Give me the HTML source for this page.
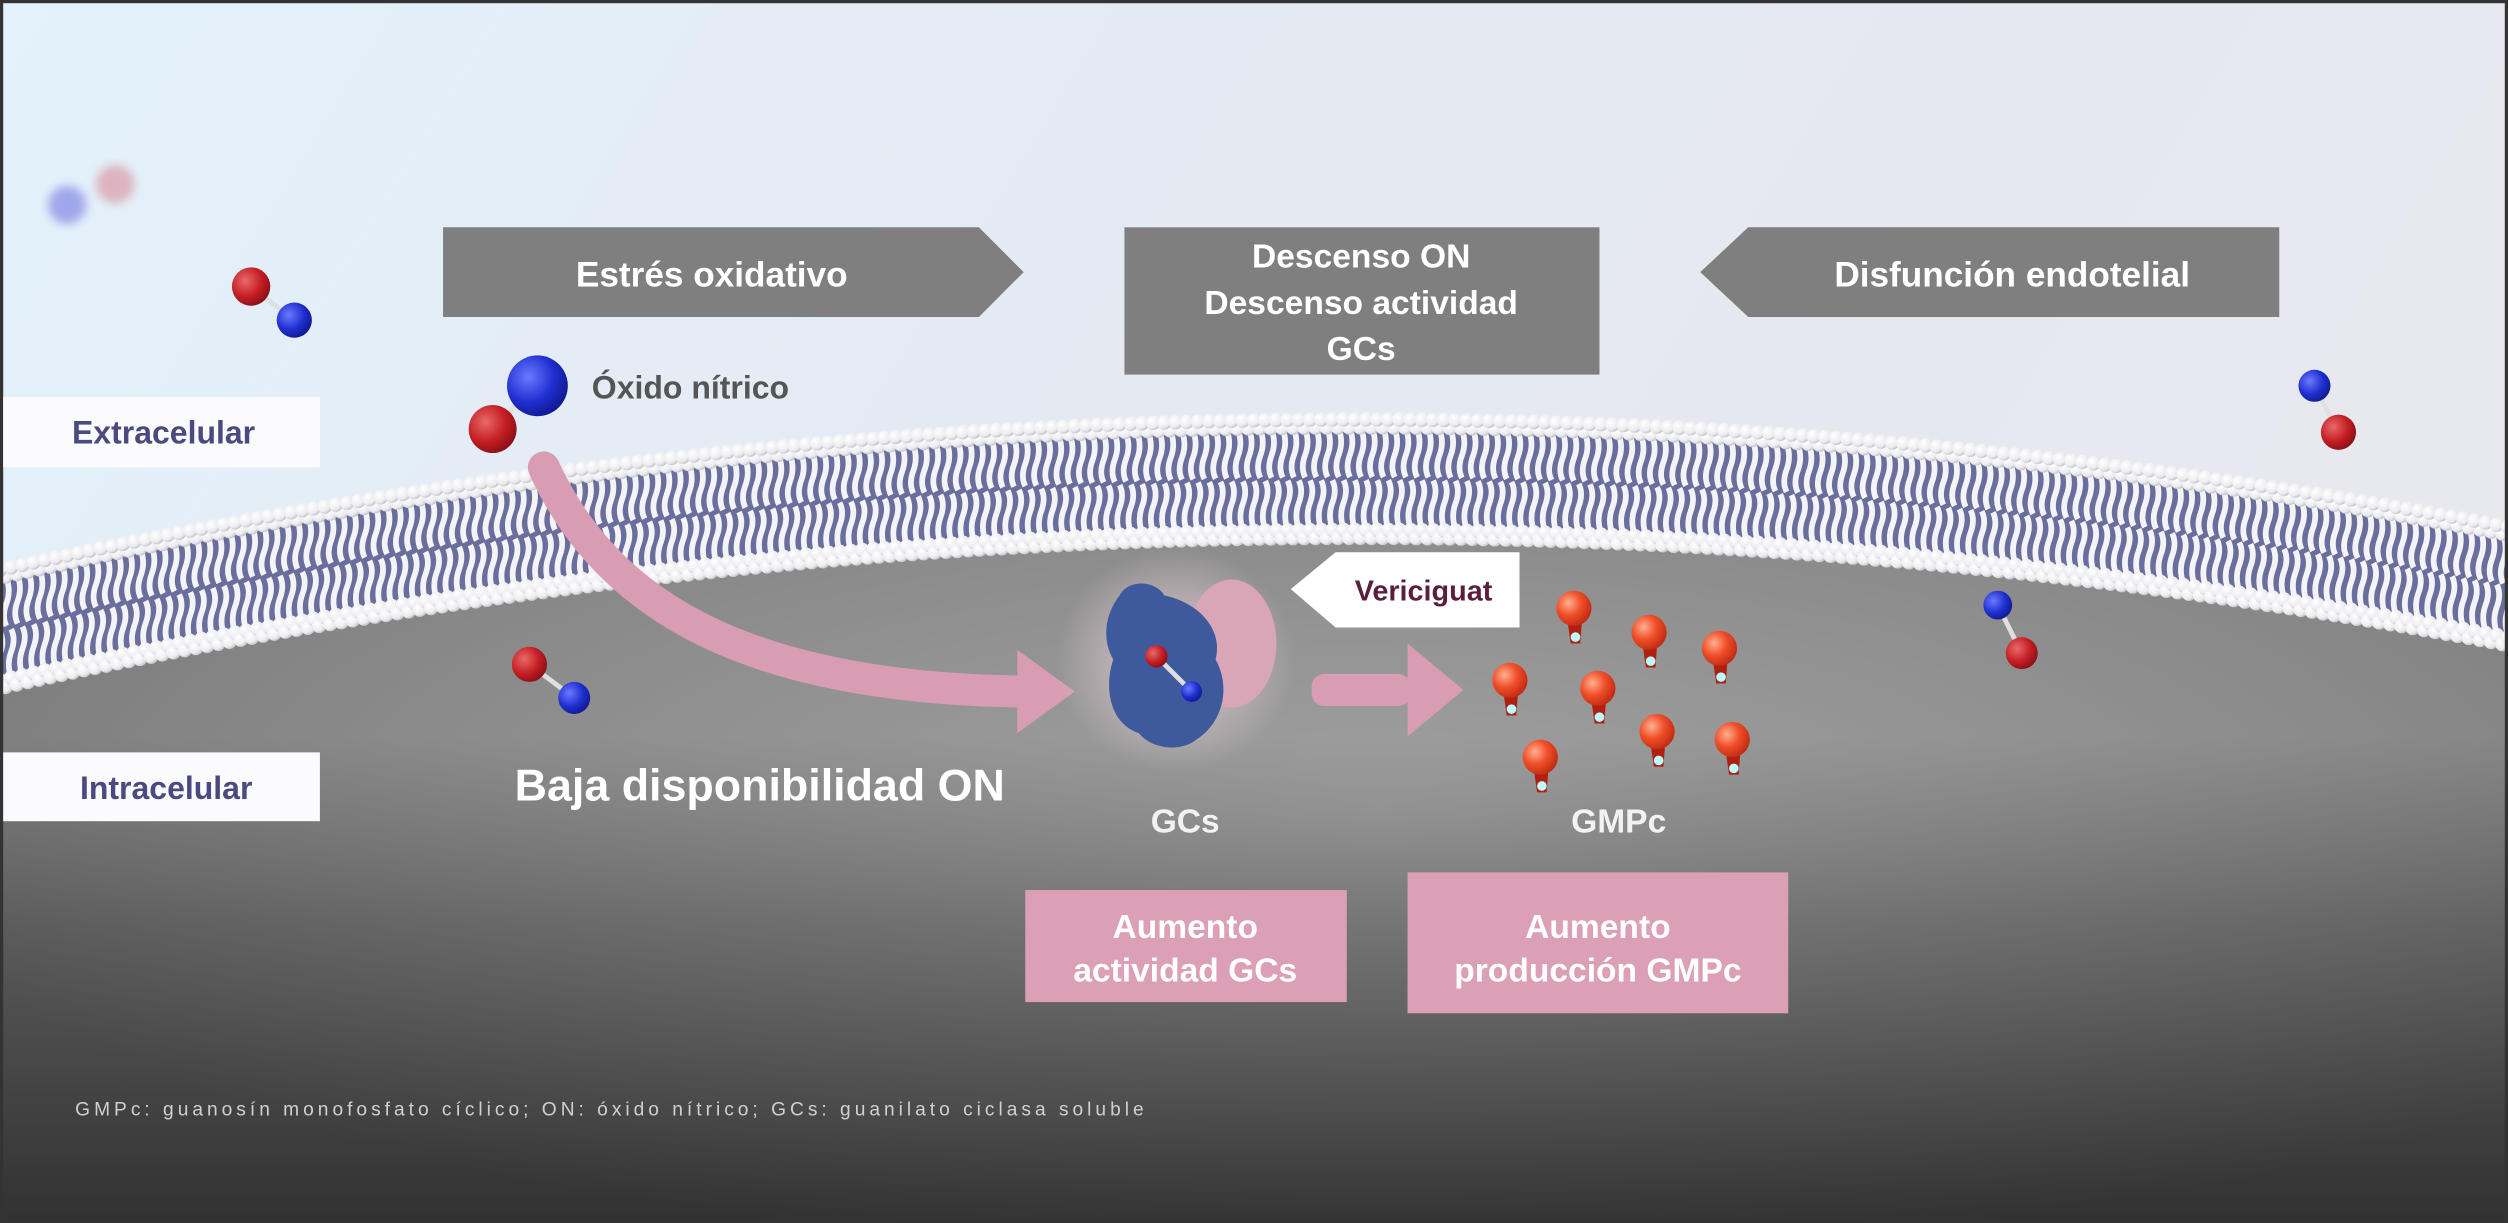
<!DOCTYPE html>
<html><head><meta charset="utf-8"><style>
html,body{margin:0;padding:0;background:#fff}
svg{display:block}
text{font-family:"Liberation Sans",sans-serif;font-weight:bold}
</style></head><body>
<svg id="s" width="2508" height="1223" viewBox="0 0 1568 764" preserveAspectRatio="none" xmlns="http://www.w3.org/2000/svg">
<defs>
<linearGradient id="sky" x1="0" y1="0" x2="1" y2="0.3">
<stop offset="0" stop-color="#e3f2fb"/><stop offset="0.5" stop-color="#e4e9f2"/><stop offset="1" stop-color="#e8e8ef"/></linearGradient>
<linearGradient id="cell" x1="0" y1="0" x2="0" y2="1">
<stop offset="0.35" stop-color="#939393"/><stop offset="0.6" stop-color="#6a6a6a"/><stop offset="1" stop-color="#3a3a3a"/></linearGradient>
<radialGradient id="cellL" cx="0.55" cy="0.45" r="0.6">
<stop offset="0" stop-color="#fff" stop-opacity="0.12"/><stop offset="1" stop-color="#000" stop-opacity="0.15"/></radialGradient>
<radialGradient id="head" cx="0.35" cy="0.35" r="0.7">
<stop offset="0" stop-color="#ffffff"/><stop offset="0.7" stop-color="#ececf0"/><stop offset="1" stop-color="#c0c0c8"/></radialGradient>
<radialGradient id="red" cx="0.35" cy="0.35" r="0.7">
<stop offset="0" stop-color="#e86a6a"/><stop offset="0.6" stop-color="#c41e24"/><stop offset="1" stop-color="#8a1015"/></radialGradient>
<radialGradient id="blue" cx="0.35" cy="0.35" r="0.7">
<stop offset="0" stop-color="#6a7aff"/><stop offset="0.6" stop-color="#1f2fd0"/><stop offset="1" stop-color="#101a90"/></radialGradient>
<radialGradient id="orng" cx="0.35" cy="0.35" r="0.7">
<stop offset="0" stop-color="#ffb090"/><stop offset="0.5" stop-color="#f0502a"/><stop offset="1" stop-color="#c02a10"/></radialGradient>
<radialGradient id="glow" cx="0.5" cy="0.5" r="0.5">
<stop offset="0" stop-color="#f4d8e2" stop-opacity="0.8"/><stop offset="1" stop-color="#f4d8e2" stop-opacity="0"/></radialGradient>
<filter id="bl"><feGaussianBlur stdDeviation="3"/></filter>
</defs>
<rect width="1568" height="764" fill="url(#sky)"/>
<g id="cellg"></g>
<g id="mem"></g>
<rect x="1" y="1" width="1566" height="762" fill="none" stroke="#333" stroke-width="2"/>
<polygon points="277,142 612,142 640,170 612,198 277,198" fill="#7f7f7f"/>
<text x="445" y="179" font-size="22" fill="#fff" text-anchor="middle">Estrés oxidativo</text>
<rect x="703" y="142" width="297" height="92" fill="#7f7f7f"/>
<text x="851" y="167" font-size="21" fill="#fff" text-anchor="middle">Descenso ON</text>
<text x="851" y="196" font-size="21" fill="#fff" text-anchor="middle">Descenso actividad</text>
<text x="851" y="225" font-size="21" fill="#fff" text-anchor="middle">GCs</text>
<polygon points="1063,170 1093,142 1425,142 1425,198 1093,198" fill="#7f7f7f"/>
<text x="1258" y="179" font-size="22" fill="#fff" text-anchor="middle">Disfunción endotelial</text>
<rect x="2" y="248" width="198" height="44" fill="#fbfbfd"/>
<text x="45" y="277" font-size="20" fill="#4a4a80">Extracelular</text>
<rect x="2" y="470" width="198" height="43" fill="#fbfbfd"/>
<text x="50" y="499" font-size="20" fill="#4a4a80">Intracelular</text>
<text x="370" y="249" font-size="20" fill="#555">Óxido nítrico</text>
<g filter="url(#bl)" opacity="0.55"><circle cx="42" cy="128" r="12" fill="#6a6ae0"/><circle cx="72" cy="115" r="12" fill="#d88090"/></g>
<g id="mols"></g>
<path d="M340,292 C380,380 470,430 640,432" fill="none" stroke="#d89db2" stroke-width="20" stroke-linecap="round"/>
<polygon points="636,406 672,432 636,458" fill="#d89db2"/>
<ellipse cx="735" cy="412" rx="75" ry="70" fill="url(#glow)"/>
<ellipse cx="770" cy="402" rx="28" ry="40" fill="#d9a6b7"/>
<path d="M700,372 C705,362 722,362 728,372 C748,376 765,392 760,412 C770,430 764,452 748,462 C738,470 720,468 712,458 C694,452 690,430 696,412 C688,398 692,382 700,372Z" fill="#3f5a9c"/>
<line x1="723" y1="410" x2="745" y2="432" stroke="#ddd" stroke-width="3"/>
<circle cx="723" cy="410" r="7" fill="url(#red)"/><circle cx="745" cy="432" r="6.5" fill="url(#blue)"/>
<text x="741" y="520" font-size="21" fill="#f2f2f2" text-anchor="middle">GCs</text>
<polygon points="807,368 835,345 950,345 950,392 835,392" fill="#fff"/>
<text x="890" y="375" font-size="18" fill="#5a1f3a" text-anchor="middle">Vericiguat</text>
<rect x="820" y="421" width="62" height="20" rx="8" fill="#d89db2"/>
<polygon points="880,402 915,431 880,460" fill="#d89db2"/>
<g id="gmp"></g>
<text x="1012" y="520" font-size="21" fill="#f2f2f2" text-anchor="middle">GMPc</text>
<text x="475" y="500" font-size="28" fill="#fff" text-anchor="middle">Baja disponibilidad ON</text>
<rect x="641" y="556" width="201" height="70" fill="#dba0b5"/>
<text x="741" y="586" font-size="21" fill="#fff" text-anchor="middle">Aumento</text>
<text x="741" y="613" font-size="21" fill="#fff" text-anchor="middle">actividad GCs</text>
<rect x="880" y="545" width="238" height="88" fill="#dba0b5"/>
<text x="999" y="586" font-size="21" fill="#fff" text-anchor="middle">Aumento</text>
<text x="999" y="613" font-size="21" fill="#fff" text-anchor="middle">producción GMPc</text>
<text x="47" y="697" font-size="12" fill="#d0d0d0" textLength="668" style="font-weight:normal">GMPc: guanosín monofosfato cíclico; ON: óxido nítrico; GCs: guanilato ciclasa soluble</text>
</svg>
<script>
(function(){
var NS="http://www.w3.org/2000/svg";
function el(t,a,p){var e=document.createElementNS(NS,t);for(var k in a)e.setAttribute(k,a[k]);p.appendChild(e);return e;}
function yt(x){return 258+1.3e-4*(x-850)*(x-850);}
var T=82;
var cg=document.getElementById('cellg');
var d="M0,"+(yt(0)+40);
for(var x=0;x<=1568;x+=8)d+=" L"+x+","+(yt(x)+40);
d+=" L1568,764 L0,764Z";
el('path',{d:d,fill:'url(#cell)'},cg);
el('path',{d:d,fill:'url(#cellL)'},cg);
var m=document.getElementById('mem');
var b="M0,"+(yt(0)+8);
for(x=0;x<=1568;x+=8)b+=" L"+x+","+(yt(x)+8);
for(x=1568;x>=0;x-=8)b+=" L"+x+","+(yt(x)+T-8);
b+="Z";
el('path',{d:b,fill:'#6a6e9c'},m);
var s=7;
for(x=-3;x<1572;x+=s){
 var y=yt(x);
 var p="M"+x+","+(y+10)+" q3,8 0,16 q-3,8 0,14";
 el('path',{d:p,fill:'none',stroke:'#f4f4f8','stroke-width':3.6},m);
 var p2="M"+(x+3)+","+(y+T-10)+" q-3,-8 0,-16 q3,-8 0,-14";
 el('path',{d:p2,fill:'none',stroke:'#f4f4f8','stroke-width':3.6},m);
}
for(x=0;x<1572;x+=s){
 el('circle',{cx:x+3.5,cy:yt(x+3.5)+9,r:4.5,fill:'url(#head)'},m);
 el('circle',{cx:x,cy:yt(x)+4,r:4.5,fill:'url(#head)'},m);
 el('circle',{cx:x,cy:yt(x)+T-9,r:4.5,fill:'url(#head)'},m);
 el('circle',{cx:x+3.5,cy:yt(x+3.5)+T-4,r:4.5,fill:'url(#head)'},m);
}
var mg=document.getElementById('mols');
function mol(rx,ry,rr,bx,by,br){
 el('line',{x1:rx,y1:ry,x2:bx,y2:by,stroke:'#e0e0e0','stroke-width':3},mg);
 el('circle',{cx:rx,cy:ry,r:rr,fill:'url(#red)'},mg);
 el('circle',{cx:bx,cy:by,r:br,fill:'url(#blue)'},mg);
}
mol(157,179,12,184,200,11);
mol(308,268,15,336,241,19);
mol(1462,270,11,1447,241,10);
mol(1264,408,10,1249,378,9);
mol(331,415,11,359,436,10);
var g=document.getElementById('gmp');
[[984,380],[1031,395],[1075,405],[944,425],[999,430],[1036,457],[1083,462],[963,473]].forEach(function(q){
 el('path',{d:"M"+(q[0]-4)+","+(q[1]+8)+" L"+(q[0]-2)+","+(q[1]+22)+" L"+(q[0]+4)+","+(q[1]+22)+" L"+(q[0]+5)+","+(q[1]+8)+"Z",fill:'#b02010'},g);
 el('circle',{cx:q[0],cy:q[1],r:11,fill:'url(#orng)'},g);
 el('circle',{cx:q[0]+1,cy:q[1]+18,r:3,fill:'#bff'},g);
});
})();
</script>
</body></html>
